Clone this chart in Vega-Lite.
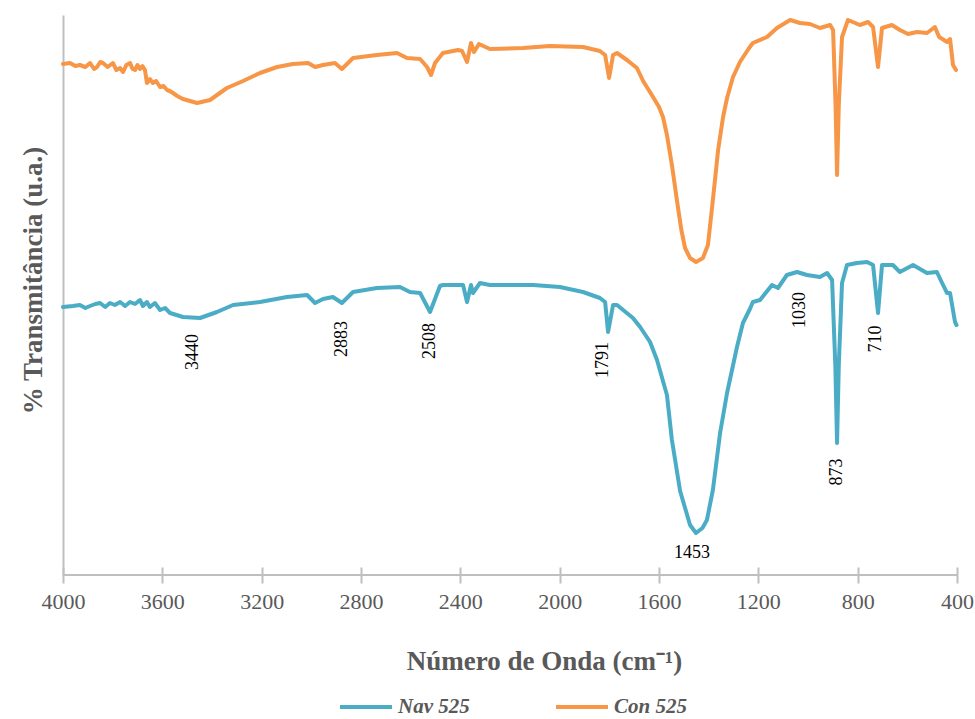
{
  "$schema": "https://vega.github.io/schema/vega-lite/v6.json",
  "width": 894,
  "height": 560,
  "autosize": {"type": "none"},
  "padding": {"left": 63, "top": 15, "right": 18, "bottom": 144},
  "background": "white",
  "config": {"view": {"stroke": null}, "font": "Liberation Serif"},
  "datasets": {
    "spectra": [
      {"s":"Con 525","wn":4000,"t":511},{"s":"Con 525","wn":3972,"t":512},{"s":"Con 525","wn":3950,"t":509},{"s":"Con 525","wn":3932,"t":510},{"s":"Con 525","wn":3910,"t":508},{"s":"Con 525","wn":3891,"t":512},{"s":"Con 525","wn":3875,"t":506},{"s":"Con 525","wn":3863,"t":508},{"s":"Con 525","wn":3850,"t":513},{"s":"Con 525","wn":3839,"t":512},{"s":"Con 525","wn":3820,"t":508},{"s":"Con 525","wn":3799,"t":512},{"s":"Con 525","wn":3785,"t":505},{"s":"Con 525","wn":3770,"t":507},{"s":"Con 525","wn":3758,"t":503},{"s":"Con 525","wn":3745,"t":510},{"s":"Con 525","wn":3730,"t":512},{"s":"Con 525","wn":3720,"t":506},{"s":"Con 525","wn":3710,"t":505},{"s":"Con 525","wn":3700,"t":510},{"s":"Con 525","wn":3690,"t":506},{"s":"Con 525","wn":3680,"t":509},{"s":"Con 525","wn":3670,"t":505},{"s":"Con 525","wn":3662,"t":492},{"s":"Con 525","wn":3650,"t":496},{"s":"Con 525","wn":3638,"t":492},{"s":"Con 525","wn":3625,"t":494},{"s":"Con 525","wn":3609,"t":488},{"s":"Con 525","wn":3595,"t":489},{"s":"Con 525","wn":3581,"t":485},{"s":"Con 525","wn":3570,"t":484},{"s":"Con 525","wn":3557,"t":482},{"s":"Con 525","wn":3540,"t":479},{"s":"Con 525","wn":3517,"t":476},{"s":"Con 525","wn":3460,"t":472},{"s":"Con 525","wn":3408,"t":475},{"s":"Con 525","wn":3340,"t":487},{"s":"Con 525","wn":3275,"t":494},{"s":"Con 525","wn":3207,"t":502},{"s":"Con 525","wn":3138,"t":508},{"s":"Con 525","wn":3074,"t":511},{"s":"Con 525","wn":3013,"t":512},{"s":"Con 525","wn":2985,"t":508},{"s":"Con 525","wn":2953,"t":510},{"s":"Con 525","wn":2905,"t":512},{"s":"Con 525","wn":2877,"t":506},{"s":"Con 525","wn":2832,"t":517},{"s":"Con 525","wn":2736,"t":520},{"s":"Con 525","wn":2655,"t":522},{"s":"Con 525","wn":2615,"t":517},{"s":"Con 525","wn":2562,"t":516},{"s":"Con 525","wn":2534,"t":508},{"s":"Con 525","wn":2518,"t":500},{"s":"Con 525","wn":2502,"t":512},{"s":"Con 525","wn":2470,"t":522},{"s":"Con 525","wn":2409,"t":525},{"s":"Con 525","wn":2393,"t":524},{"s":"Con 525","wn":2373,"t":513},{"s":"Con 525","wn":2357,"t":532},{"s":"Con 525","wn":2345,"t":523},{"s":"Con 525","wn":2325,"t":531},{"s":"Con 525","wn":2281,"t":526},{"s":"Con 525","wn":2148,"t":527},{"s":"Con 525","wn":2039,"t":529},{"s":"Con 525","wn":1906,"t":528},{"s":"Con 525","wn":1838,"t":524},{"s":"Con 525","wn":1817,"t":520},{"s":"Con 525","wn":1801,"t":497},{"s":"Con 525","wn":1785,"t":520},{"s":"Con 525","wn":1769,"t":522},{"s":"Con 525","wn":1729,"t":515},{"s":"Con 525","wn":1689,"t":507},{"s":"Con 525","wn":1664,"t":494},{"s":"Con 525","wn":1624,"t":478},{"s":"Con 525","wn":1600,"t":468},{"s":"Con 525","wn":1584,"t":458},{"s":"Con 525","wn":1568,"t":440},{"s":"Con 525","wn":1548,"t":410},{"s":"Con 525","wn":1528,"t":375},{"s":"Con 525","wn":1510,"t":345},{"s":"Con 525","wn":1495,"t":327},{"s":"Con 525","wn":1475,"t":317},{"s":"Con 525","wn":1451,"t":313},{"s":"Con 525","wn":1423,"t":317},{"s":"Con 525","wn":1403,"t":330},{"s":"Con 525","wn":1383,"t":375},{"s":"Con 525","wn":1362,"t":425},{"s":"Con 525","wn":1342,"t":458},{"s":"Con 525","wn":1326,"t":477},{"s":"Con 525","wn":1302,"t":498},{"s":"Con 525","wn":1274,"t":513},{"s":"Con 525","wn":1240,"t":526},{"s":"Con 525","wn":1222,"t":532},{"s":"Con 525","wn":1165,"t":538},{"s":"Con 525","wn":1125,"t":547},{"s":"Con 525","wn":1072,"t":555},{"s":"Con 525","wn":1032,"t":552},{"s":"Con 525","wn":992,"t":551},{"s":"Con 525","wn":952,"t":547},{"s":"Con 525","wn":911,"t":550},{"s":"Con 525","wn":899,"t":545},{"s":"Con 525","wn":889,"t":470},{"s":"Con 525","wn":883,"t":400},{"s":"Con 525","wn":876,"t":470},{"s":"Con 525","wn":863,"t":538},{"s":"Con 525","wn":839,"t":555},{"s":"Con 525","wn":791,"t":550},{"s":"Con 525","wn":758,"t":553},{"s":"Con 525","wn":738,"t":548},{"s":"Con 525","wn":718,"t":508},{"s":"Con 525","wn":702,"t":547},{"s":"Con 525","wn":662,"t":550},{"s":"Con 525","wn":630,"t":545},{"s":"Con 525","wn":597,"t":541},{"s":"Con 525","wn":561,"t":543},{"s":"Con 525","wn":521,"t":542},{"s":"Con 525","wn":489,"t":548},{"s":"Con 525","wn":472,"t":538},{"s":"Con 525","wn":440,"t":533},{"s":"Con 525","wn":428,"t":536},{"s":"Con 525","wn":416,"t":510},{"s":"Con 525","wn":404,"t":505},
      {"s":"Nav 525","wn":4000,"t":268},{"s":"Nav 525","wn":3960,"t":269},{"s":"Nav 525","wn":3932,"t":270},{"s":"Nav 525","wn":3910,"t":267},{"s":"Nav 525","wn":3891,"t":269},{"s":"Nav 525","wn":3870,"t":271},{"s":"Nav 525","wn":3851,"t":272},{"s":"Nav 525","wn":3830,"t":268},{"s":"Nav 525","wn":3811,"t":272},{"s":"Nav 525","wn":3791,"t":270},{"s":"Nav 525","wn":3770,"t":273},{"s":"Nav 525","wn":3750,"t":269},{"s":"Nav 525","wn":3730,"t":273},{"s":"Nav 525","wn":3710,"t":271},{"s":"Nav 525","wn":3690,"t":275},{"s":"Nav 525","wn":3678,"t":269},{"s":"Nav 525","wn":3662,"t":273},{"s":"Nav 525","wn":3650,"t":268},{"s":"Nav 525","wn":3630,"t":272},{"s":"Nav 525","wn":3609,"t":265},{"s":"Nav 525","wn":3589,"t":267},{"s":"Nav 525","wn":3569,"t":262},{"s":"Nav 525","wn":3517,"t":258},{"s":"Nav 525","wn":3448,"t":257},{"s":"Nav 525","wn":3380,"t":263},{"s":"Nav 525","wn":3315,"t":270},{"s":"Nav 525","wn":3207,"t":273},{"s":"Nav 525","wn":3098,"t":278},{"s":"Nav 525","wn":3017,"t":280},{"s":"Nav 525","wn":2985,"t":272},{"s":"Nav 525","wn":2953,"t":276},{"s":"Nav 525","wn":2913,"t":278},{"s":"Nav 525","wn":2877,"t":272},{"s":"Nav 525","wn":2832,"t":283},{"s":"Nav 525","wn":2736,"t":287},{"s":"Nav 525","wn":2643,"t":288},{"s":"Nav 525","wn":2603,"t":283},{"s":"Nav 525","wn":2562,"t":282},{"s":"Nav 525","wn":2522,"t":263},{"s":"Nav 525","wn":2482,"t":289},{"s":"Nav 525","wn":2470,"t":290},{"s":"Nav 525","wn":2389,"t":290},{"s":"Nav 525","wn":2373,"t":273},{"s":"Nav 525","wn":2357,"t":290},{"s":"Nav 525","wn":2349,"t":282},{"s":"Nav 525","wn":2321,"t":292},{"s":"Nav 525","wn":2281,"t":290},{"s":"Nav 525","wn":2107,"t":290},{"s":"Nav 525","wn":1999,"t":288},{"s":"Nav 525","wn":1906,"t":283},{"s":"Nav 525","wn":1838,"t":277},{"s":"Nav 525","wn":1817,"t":273},{"s":"Nav 525","wn":1805,"t":243},{"s":"Nav 525","wn":1785,"t":270},{"s":"Nav 525","wn":1769,"t":270},{"s":"Nav 525","wn":1705,"t":257},{"s":"Nav 525","wn":1676,"t":248},{"s":"Nav 525","wn":1636,"t":233},{"s":"Nav 525","wn":1608,"t":215},{"s":"Nav 525","wn":1568,"t":180},{"s":"Nav 525","wn":1548,"t":135},{"s":"Nav 525","wn":1515,"t":84},{"s":"Nav 525","wn":1475,"t":50},{"s":"Nav 525","wn":1451,"t":42},{"s":"Nav 525","wn":1425,"t":47},{"s":"Nav 525","wn":1407,"t":55},{"s":"Nav 525","wn":1383,"t":85},{"s":"Nav 525","wn":1354,"t":142},{"s":"Nav 525","wn":1326,"t":182},{"s":"Nav 525","wn":1286,"t":228},{"s":"Nav 525","wn":1262,"t":252},{"s":"Nav 525","wn":1234,"t":266},{"s":"Nav 525","wn":1222,"t":273},{"s":"Nav 525","wn":1193,"t":275},{"s":"Nav 525","wn":1145,"t":290},{"s":"Nav 525","wn":1121,"t":287},{"s":"Nav 525","wn":1085,"t":300},{"s":"Nav 525","wn":1044,"t":303},{"s":"Nav 525","wn":1004,"t":300},{"s":"Nav 525","wn":952,"t":298},{"s":"Nav 525","wn":923,"t":302},{"s":"Nav 525","wn":903,"t":295},{"s":"Nav 525","wn":890,"t":210},{"s":"Nav 525","wn":883,"t":132},{"s":"Nav 525","wn":876,"t":210},{"s":"Nav 525","wn":863,"t":292},{"s":"Nav 525","wn":843,"t":310},{"s":"Nav 525","wn":803,"t":312},{"s":"Nav 525","wn":762,"t":313},{"s":"Nav 525","wn":738,"t":310},{"s":"Nav 525","wn":718,"t":262},{"s":"Nav 525","wn":702,"t":310},{"s":"Nav 525","wn":658,"t":310},{"s":"Nav 525","wn":630,"t":303},{"s":"Nav 525","wn":577,"t":310},{"s":"Nav 525","wn":521,"t":302},{"s":"Nav 525","wn":481,"t":303},{"s":"Nav 525","wn":460,"t":292},{"s":"Nav 525","wn":440,"t":282},{"s":"Nav 525","wn":428,"t":282},{"s":"Nav 525","wn":408,"t":253},{"s":"Nav 525","wn":402,"t":250}
    ],
    "peaks": [
      {"label":"3440","wn":3476,"t":223,"angle":-90},
      {"label":"2883","wn":2876,"t":236,"angle":-90},
      {"label":"2508","wn":2522,"t":234,"angle":-90},
      {"label":"1791","wn":1825,"t":215,"angle":-90},
      {"label":"1453","wn":1467,"t":22,"angle":0},
      {"label":"1030","wn":1032,"t":265,"angle":-90},
      {"label":"873","wn":883,"t":103,"angle":-90},
      {"label":"710","wn":726,"t":236,"angle":-90}
    ]
  },
  "layer": [
    {
      "data": {"values": [{}]},
      "mark": {"type": "rule", "color": "#BFBFBF", "strokeWidth": 2},
      "encoding": {"y": {"datum": 0, "type": "quantitative", "scale": {"domain": [0, 560], "nice": false, "zero": false}}}
    },
    {
      "data": {"name": "spectra"},
      "mark": {"type": "line", "strokeWidth": 4, "strokeJoin": "round", "strokeCap": "round"},
      "encoding": {
        "x": {
          "field": "wn", "type": "quantitative",
          "scale": {"domain": [400, 4000], "reverse": true, "nice": false, "zero": false},
          "axis": {
            "title": "Número de Onda (cm⁻¹)",
            "values": [4000, 3600, 3200, 2800, 2400, 2000, 1600, 1200, 800, 400],
            "format": "d",
            "grid": false,
            "domain": false,
            "offset": -8,
            "tickSize": 16,
            "tickColor": "#BFBFBF",
            "tickWidth": 2,
            "labelFont": "Liberation Serif",
            "labelFontSize": 22,
            "labelColor": "#595959",
            "labelPadding": 8,
            "labelFlush": false,
            "titleFont": "Liberation Serif",
            "titleFontSize": 27,
            "titleFontWeight": "bold",
            "titleColor": "#595959",
            "titlePadding": 36,
            "titleX": 481
          }
        },
        "y": {
          "field": "t", "type": "quantitative",
          "scale": {"domain": [0, 560], "nice": false, "zero": false},
          "axis": {
            "title": "% Transmitância (u.a.)",
            "grid": false,
            "ticks": false,
            "labels": false,
            "domainColor": "#BFBFBF",
            "domainWidth": 2,
            "titleFont": "Liberation Serif",
            "titleFontSize": 27,
            "titleFontWeight": "bold",
            "titleColor": "#595959",
            "titlePadding": 16,
            "titleY": 265
          }
        },
        "color": {
          "field": "s", "type": "nominal",
          "scale": {"domain": ["Nav 525", "Con 525"], "range": ["#4BACC6", "#F79646"]},
          "legend": {
            "orient": "none",
            "legendX": 275,
            "legendY": 664,
            "direction": "horizontal",
            "title": null,
            "symbolType": "stroke",
            "symbolSize": 2700,
            "symbolStrokeWidth": 4,
            "labelFont": "Liberation Serif",
            "labelFontSize": 21,
            "labelFontStyle": "italic",
            "labelFontWeight": "bold",
            "labelColor": "#595959",
            "labelOffset": 4,
            "columnPadding": 78
          }
        }
      }
    },
    {
      "data": {"name": "peaks"},
      "mark": {"type": "text", "font": "Liberation Serif", "fontSize": 18, "color": "#000000", "align": "center", "baseline": "middle"},
      "encoding": {
        "x": {"field": "wn", "type": "quantitative"},
        "y": {"field": "t", "type": "quantitative"},
        "text": {"field": "label"},
        "angle": {"field": "angle", "type": "quantitative", "scale": null}
      }
    }
  ]
}
